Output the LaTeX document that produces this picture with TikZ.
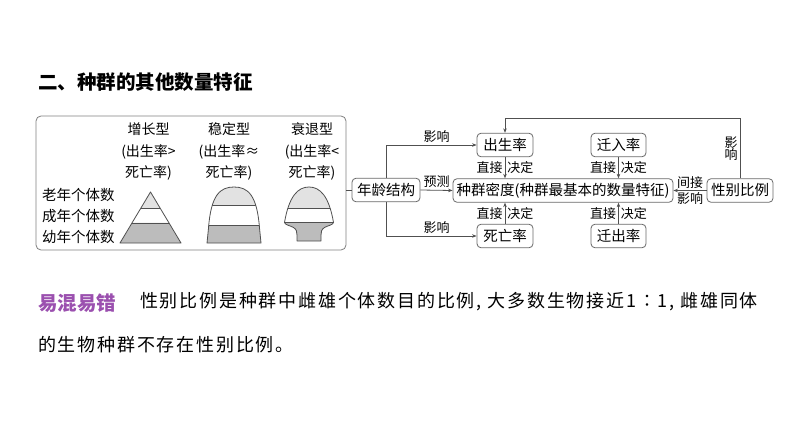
\documentclass[tikz,border=0pt]{standalone}
\usepackage{fontspec}
\setmainfont{Noto Sans CJK SC}
\usetikzlibrary{arrows.meta}
\definecolor{lgray}{RGB}{226,226,226}
\definecolor{dgray}{RGB}{188,188,188}
\definecolor{edge}{RGB}{80,80,80}
\definecolor{boxc}{RGB}{105,105,105}
\definecolor{purp}{RGB}{155,80,175}
\begin{document}
\begin{tikzpicture}[x=1pt,y=-1pt,
  fbox/.style={draw=boxc, line width=0.8pt, rounded corners=4pt, inner sep=0pt, minimum height=23.5pt, font=\fontsize{14.5}{16}\selectfont},
  lab/.style={font=\fontsize{13}{12}\selectfont, inner sep=2pt},
  arr/.style={draw=edge, line width=0.8pt, -{Stealth[length=4.5pt,width=3.5pt]}},
  ln/.style={draw=edge, line width=0.8pt},
  boxtxt/.style={font=\fontsize{14}{21.5}\selectfont, align=center, inner sep=0pt},
  rowtxt/.style={anchor=west, inner sep=0pt, font=\fontsize{14.5}{16}\selectfont},
  shp/.style={draw=edge, line width=0.8pt, line join=round}
]
\useasboundingbox (0,0) rectangle (794,446);
\fill[white] (0,0) rectangle (794,446);

% title
\node[anchor=west, inner sep=0pt, font=\fontsize{19.5}{20}\selectfont\bfseries] (title) at (38,82) {二、种群的其他数量特征};

% left box
\node[draw=boxc!85, line width=0.8pt, rounded corners=5pt, minimum width=310pt, minimum height=134pt, inner sep=0pt] (lbox) at (191,183) {};
\node[boxtxt] (t1) at (148.5,151.5) {增长型\\(出生率>\\死亡率)};
\node[boxtxt] (t2) at (229,151.5) {稳定型\\(出生率≈\\死亡率)};
\node[boxtxt] (t3) at (312,151.5) {衰退型\\(出生率<\\死亡率)};
\node[rowtxt] (r1) at (42,195) {老年个体数};
\node[rowtxt] (r2) at (42,216.5) {成年个体数};
\node[rowtxt] (r3) at (42,237) {幼年个体数};

% pyramid
\fill[lgray] (150.5,192) -- (140.9,208) -- (160.1,208) -- cycle;
\fill[dgray] (132,223) -- (169,223) -- (181,243) -- (120,243) -- cycle;
\draw[shp] (140.9,208) -- (160.1,208) (132,223) -- (169,223);
\draw[shp] (150.5,192) -- (181,243) -- (120,243) -- cycle;

% bell
\begin{scope}
\clip (207,243) -- (208.5,228) .. controls (211,195) and (220,187) .. (234,187) .. controls (248,187) and (257,195) .. (259.5,228) -- (261,243) -- cycle;
\fill[lgray] (200,180) rectangle (270,205);
\fill[dgray] (200,225) rectangle (270,250);
\draw[shp] (200,205) -- (270,205) (200,225) -- (270,225);
\end{scope}
\draw[shp] (207,243) -- (208.5,228) .. controls (211,195) and (220,187) .. (234,187) .. controls (248,187) and (257,195) .. (259.5,228) -- (261,243) -- cycle;

% bottle
\begin{scope}
\clip (284.5,222.5) .. controls (289,196) and (298,187) .. (309,187) .. controls (320,187) and (329,196) .. (333.5,222.5) .. controls (333,225) and (328,225.5) .. (324.5,227.5) .. controls (321.5,229.5) and (321,231.5) .. (321,235) -- (321,241) -- (297,241) -- (297,235) .. controls (297,231.5) and (296.5,229.5) .. (293.5,227.5) .. controls (290,225.5) and (285,225) .. (284.5,222.5) -- cycle;
\fill[lgray] (280,180) rectangle (340,208);
\fill[dgray] (280,222.5) rectangle (340,250);
\draw[shp] (280,208) -- (340,208) (280,222.5) -- (340,222.5);
\end{scope}
\draw[shp] (284.5,222.5) .. controls (289,196) and (298,187) .. (309,187) .. controls (320,187) and (329,196) .. (333.5,222.5) .. controls (333,225) and (328,225.5) .. (324.5,227.5) .. controls (321.5,229.5) and (321,231.5) .. (321,235) -- (321,241) -- (297,241) -- (297,235) .. controls (297,231.5) and (296.5,229.5) .. (293.5,227.5) .. controls (290,225.5) and (285,225) .. (284.5,222.5) -- cycle;

% flow nodes
\node[fbox, minimum width=68pt] (age) at (386,190) {年龄结构};
\node[fbox, minimum width=56pt] (birth) at (505,145) {出生率};
\node[fbox, minimum width=56pt] (death) at (505,236) {死亡率};
\node[fbox, minimum width=220pt] (dens) at (563,190.5) {种群密度(种群最基本的数量特征)};
\node[fbox, minimum width=55pt] (imm) at (618.5,145) {迁入率};
\node[fbox, minimum width=55pt] (emi) at (618.5,236) {迁出率};
\node[fbox, minimum width=66pt] (sex) at (740,190.5) {性别比例};
\coordinate (tl) at (505,118);

% connectors
\draw[ln] (age.west -| lbox.east) -- (age.west);
\draw[arr] (age.north) |- (birth.west) node[lab, pos=0.78, above] {影响};
\draw[arr] (age.south) |- (death.west) node[lab, pos=0.78, above] {影响};
\draw[arr] (age.east) -- (dens.west) node[lab, midway, above] {预测};
\draw[arr] (birth) -- (birth |- dens.north) node[lab, midway, left] {直接} node[lab, midway, right] {决定};
\draw[arr] (death) -- (death |- dens.south) node[lab, midway, left] {直接} node[lab, midway, right] {决定};
\draw[arr] (imm) -- (imm |- dens.north) node[lab, midway, left] {直接} node[lab, midway, right] {决定};
\draw[arr] (emi) -- (emi |- dens.south) node[lab, midway, left] {直接} node[lab, midway, right] {决定};
\draw[arr] (sex.west) -- (dens.east) node[lab, midway, above] {间接} node[lab, midway, below] {影响};
\draw[arr] (sex.north) |- node[lab, pos=0.25, left, align=center] {影\\响} (tl) -- (birth.north);

% note
\node[anchor=west, inner sep=0pt, font=\fontsize{19.5}{20}\selectfont\bfseries, text=purp] (tip) at (38,303) {易混易错};
\node[anchor=west, inner sep=0pt, font=\fontsize{18}{20}\selectfont\addfontfeature{LetterSpace=10}] (l1) at (140,302) {性别比例是种群中雌雄个体数目的比例, 大多数生物接近1∶1, 雌雄同体};
\node[anchor=west, inner sep=0pt, font=\fontsize{18}{20}\selectfont\addfontfeature{LetterSpace=10}] (l2) at (38,345) {的生物种群不存在性别比例。};
\end{tikzpicture}
\end{document}
